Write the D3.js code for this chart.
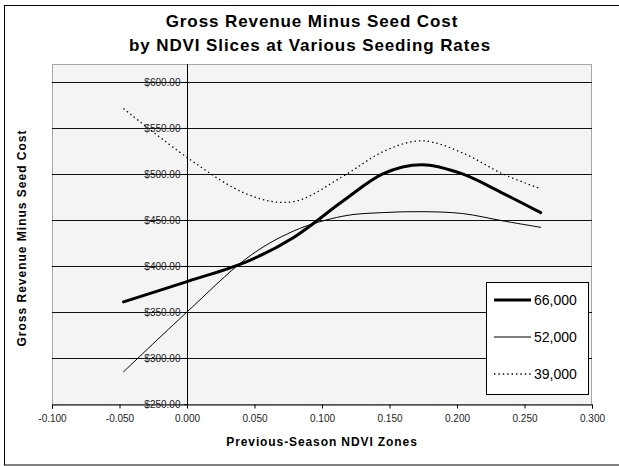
<!DOCTYPE html>
<html>
<head>
<meta charset="utf-8">
<script src="https://cdn.jsdelivr.net/npm/d3@7"></script>
<style>
  body { margin: 0; background: #fff; }
  svg { display: block; }
  text { font-family: "Liberation Sans", Arial, sans-serif; }
</style>
</head>
<body>
<svg id="chart" width="619" height="466"></svg>
<script>
// NDVI zone centres (x) and net revenue per seeding rate (y, $/acre)
const ndvi      = [-0.047, 0.000, 0.043, 0.079, 0.115, 0.145, 0.174, 0.204, 0.234, 0.262];
const rate66000 = [361, 383, 404, 431, 470, 500, 510, 500, 479, 458];
const rate52000 = [285, 350, 407, 438, 454, 458, 459, 457, 449, 442];
const rate39000 = [571, 518, 479, 470, 497, 524, 536, 523, 500, 484];
const seriesNames = ["66,000", "52,000", "39,000"];
const xTicks = [-0.100, -0.050, 0.000, 0.050, 0.100, 0.150, 0.200, 0.250, 0.300];
const yTicks = [250, 300, 350, 400, 450, 500, 550, 600];

const series = [
  { name: seriesNames[0], values: rate66000, width: 3,   dash: null },
  { name: seriesNames[1], values: rate52000, width: 1,   dash: null },
  { name: seriesNames[2], values: rate39000, width: 1.3, dash: "1.4,3" }
];

const svg = d3.select("#chart");
const plot = { left: 52, right: 592, top: 64, bottom: 404 };

const x = d3.scaleLinear().domain([-0.1, 0.3]).range([plot.left, plot.right]);
const y = d3.scaleLinear().domain([250, 619.5]).range([plot.bottom, plot.top]);

// plain hyphen for negatives, as on the printed axis
const fmtX = v => d3.format(".3f")(v).replace("\u2212", "-");

// chart frame
svg.append("rect")
  .attr("x", 4.5).attr("y", 5.5)
  .attr("width", 616).attr("height", 459.5)
  .attr("fill", "#fff").attr("stroke", "#000").attr("stroke-width", 1);

// titles
const title = svg.append("text")
  .attr("text-anchor", "middle")
  .attr("font-weight", "bold").attr("font-size", 17)
  .attr("letter-spacing", 0.9)
  .attr("fill", "#000");
title.append("tspan").attr("x", 312).attr("y", 27).text("Gross Revenue Minus Seed Cost");
title.append("tspan").attr("x", 310).attr("y", 51).text("by NDVI Slices at Various Seeding Rates");

// plot area
svg.append("rect")
  .attr("x", plot.left + 0.5).attr("y", plot.top + 0.5)
  .attr("width", plot.right - plot.left - 1).attr("height", plot.bottom - plot.top)
  .attr("fill", "#f4f4f4").attr("stroke", "#a8a8a8").attr("stroke-width", 1);

// horizontal gridlines
svg.append("g").selectAll("line")
  .data(yTicks.filter(d => d !== 250))
  .join("line")
  .attr("x1", plot.left).attr("x2", plot.right)
  .attr("y1", d => Math.round(y(d)) + 0.5).attr("y2", d => Math.round(y(d)) + 0.5)
  .attr("stroke", "#111").attr("stroke-width", 1);

// x axis along the bottom
const xAxis = d3.axisBottom(x)
  .tickValues(xTicks)
  .tickSize(4)
  .tickFormat(fmtX);
const gx = svg.append("g")
  .attr("transform", `translate(0,${Math.round(y(250)) + 0.5})`)
  .call(xAxis);
gx.select(".domain").attr("stroke", "#000");
gx.selectAll(".tick line").attr("stroke", "#000");
gx.selectAll(".tick text")
  .attr("font-family", "'Liberation Sans', Arial, sans-serif")
  .attr("font-size", 10).attr("fill", "#222").attr("y", 10).attr("dy", "0.71em");

// y axis crossing at x = 0
const yAxis = d3.axisLeft(y)
  .tickValues(yTicks)
  .tickSize(3)
  .tickPadding(4)
  .tickFormat(d => "$" + d3.format(".2f")(d));
const gy = svg.append("g")
  .attr("transform", `translate(${Math.round(x(0)) + 0.5},0)`)
  .call(yAxis);
gy.select(".domain").attr("d", `M0,${plot.top}V${plot.bottom}`).attr("stroke", "#000");
gy.selectAll(".tick line").attr("stroke", "#000");
gy.selectAll(".tick text")
  .attr("font-family", "'Liberation Sans', Arial, sans-serif")
  .attr("font-size", 10).attr("fill", "#222");

// axis titles
svg.append("text")
  .attr("x", 322).attr("y", 446)
  .attr("text-anchor", "middle")
  .attr("font-weight", "bold").attr("font-size", 12)
  .attr("letter-spacing", 0.9)
  .text("Previous-Season NDVI Zones");

svg.append("text")
  .attr("transform", "translate(26,238) rotate(-90)")
  .attr("text-anchor", "middle")
  .attr("font-weight", "bold").attr("font-size", 12)
  .attr("letter-spacing", 1)
  .text("Gross Revenue Minus Seed Cost");

// smoothed series lines
const line = d3.line()
  .x((d, i) => x(ndvi[i]))
  .y(d => y(d))
  .curve(d3.curveCardinal.tension(0));

svg.append("g").selectAll("path")
  .data(series)
  .join("path")
  .attr("d", d => line(d.values))
  .attr("fill", "none")
  .attr("stroke", "#000")
  .attr("stroke-width", d => d.width)
  .attr("stroke-dasharray", d => d.dash)
  .attr("stroke-linecap", d => d.dash ? "butt" : "round");

// legend
const legend = svg.append("g");
legend.append("rect")
  .attr("x", 486.5).attr("y", 282.5)
  .attr("width", 102).attr("height", 112)
  .attr("fill", "#fff").attr("stroke", "#000");
const entries = legend.selectAll("g.entry")
  .data(series)
  .join("g")
  .attr("class", "entry")
  .attr("transform", (d, i) => `translate(0,${300 + i * 37})`);
entries.append("line")
  .attr("x1", 494).attr("x2", 531)
  .attr("stroke", "#000")
  .attr("stroke-width", d => d.width)
  .attr("stroke-dasharray", d => d.dash);
entries.append("text")
  .attr("x", 534).attr("dy", "0.36em")
  .attr("font-size", 14)
  .attr("fill", "#000")
  .text(d => d.name);
</script>
</body>
</html>
